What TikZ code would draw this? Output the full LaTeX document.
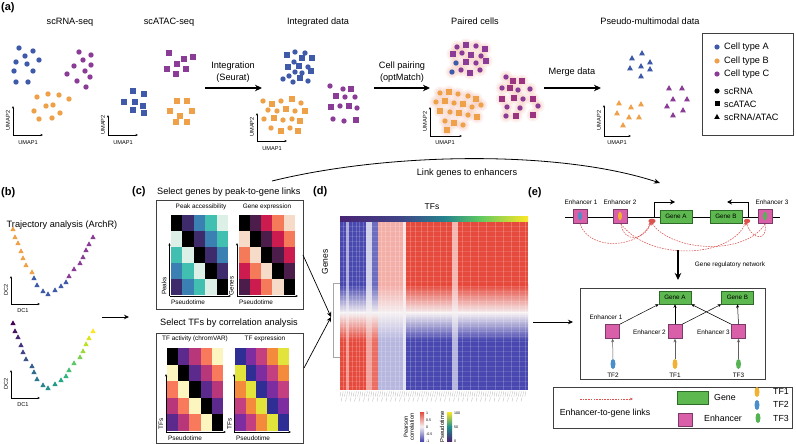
\documentclass[tikz,border=0pt]{standalone}
\usepackage{fontspec}
\setmainfont{Liberation Sans}
\usetikzlibrary{arrows.meta,shapes.geometric}
\definecolor{cA}{HTML}{3F5AA8}
\definecolor{cB}{HTML}{EFA14A}
\definecolor{cC}{HTML}{8A3C97}
\definecolor{halo}{HTML}{F4BBAA}
\definecolor{enh}{HTML}{D95FA8}
\definecolor{enhD}{HTML}{7A3A6A}
\definecolor{gene}{HTML}{5DB84F}
\definecolor{geneD}{HTML}{2E6B28}
\definecolor{tfa}{HTML}{F2B130}
\definecolor{tfb}{HTML}{4A8FCB}
\definecolor{tfc}{HTML}{55B354}
\definecolor{lnk}{HTML}{D9534F}
\definecolor{hR}{HTML}{E64A3D}
\definecolor{hB}{HTML}{4848B0}
\definecolor{hW}{HTML}{F5F0F2}
% mini heatmap palettes
\definecolor{pa0}{HTML}{000000}\definecolor{pa1}{HTML}{3D2B6B}\definecolor{pa2}{HTML}{3A80B2}\definecolor{pa3}{HTML}{41BFB0}\definecolor{pa4}{HTML}{DDF0E8}
\definecolor{ge0}{HTML}{000000}\definecolor{ge1}{HTML}{4C1D4B}\definecolor{ge2}{HTML}{CB1B4F}\definecolor{ge3}{HTML}{F47A5A}\definecolor{ge4}{HTML}{F6DCC8}
\definecolor{ta0}{HTML}{000000}\definecolor{ta1}{HTML}{5B2A8C}\definecolor{ta2}{HTML}{B8367A}\definecolor{ta3}{HTML}{F8795C}\definecolor{ta4}{HTML}{FCF5BF}
\definecolor{te0}{HTML}{2E2E94}\definecolor{te1}{HTML}{7E2DA0}\definecolor{te2}{HTML}{C33F7F}\definecolor{te3}{HTML}{F48A3B}\definecolor{te4}{HTML}{E2E43C}
% viridis
\definecolor{vir0}{HTML}{440154}\definecolor{vir1}{HTML}{471365}\definecolor{vir2}{HTML}{482475}\definecolor{vir3}{HTML}{463480}
\definecolor{vir4}{HTML}{414487}\definecolor{vir5}{HTML}{3B528B}\definecolor{vir6}{HTML}{355F8D}\definecolor{vir7}{HTML}{2F6C8E}
\definecolor{vir8}{HTML}{2A788E}\definecolor{vir9}{HTML}{25848E}\definecolor{vir10}{HTML}{21918C}\definecolor{vir11}{HTML}{1E9C89}
\definecolor{vir12}{HTML}{22A884}\definecolor{vir13}{HTML}{2FB47C}\definecolor{vir14}{HTML}{44BF70}\definecolor{vir15}{HTML}{5EC962}
\definecolor{vir16}{HTML}{7AD151}\definecolor{vir17}{HTML}{9BD93C}\definecolor{vir18}{HTML}{BDDF26}\definecolor{vir19}{HTML}{DFE318}
\definecolor{vir20}{HTML}{FDE725}
\newcommand\umapax[6]{% name, x, y, h, w, vertical label
  \draw[axarr] (#2,#3) -- (#2,#3-#4);
  \draw[axarr] (#2,#3) -- (#2+#5,#3);
  \node[axl,rotate=90] (#1v) at (#2-5,#3-#4/2) {#6};}
\newcommand\hmap[5]{% x0, y0, w, h, palette
  \foreach \r in {0,...,4}{\foreach \c in {0,...,4}{%
    \pgfmathtruncatemacro\k{mod(\c-\r+5,5)}%
    \fill[#5\k] (#1+\c*#3,#2+\r*#4) rectangle (#1+\c*#3+#3+0.3,#2+\r*#4+#4+0.3);}}}
\begin{document}
\begin{tikzpicture}[x=1pt,y=-1pt,
 lbl/.style={font=\fontsize{9.2}{10}\selectfont, inner sep=0pt},
 sml/.style={font=\fontsize{6.4}{7}\selectfont, inner sep=0pt},
 axl/.style={font=\fontsize{5.6}{6}\selectfont, inner sep=0pt},
 tny/.style={font=\fontsize{3.6}{4}\selectfont, inner sep=0pt},
 pnl/.style={font=\bfseries\fontsize{11}{12}\selectfont, inner sep=0pt, anchor=west},
 bigarr/.style={-{Stealth[length=7pt,width=6.5pt]}, line width=1.1pt},
 axarr/.style={-{Stealth[length=2.6pt,width=2.2pt]}, line width=0.5pt},
 frame/.style={draw=black!75, line width=0.6pt},
 genebox/.style={draw=geneD, fill=gene, line width=0.5pt, minimum width=32pt, minimum height=13pt, inner sep=0pt, font=\fontsize{6.3}{7}\selectfont},
 enhbox/.style={draw=enhD, fill=enh, line width=0.5pt, minimum width=14pt, minimum height=14pt, inner sep=0pt},
 tfell/.style={ellipse, minimum width=5pt, minimum height=10pt, inner sep=0pt},
 lnkarr/.style={draw=lnk, dash pattern=on 1.6pt off 1.1pt, line width=0.55pt, -{Stealth[length=3.2pt,width=2.8pt]}},
 grnarr/.style={-{Stealth[length=3.5pt,width=3pt]}, line width=0.5pt},
]
\useasboundingbox (0,0) rectangle (796,444);
\fill[white] (0,0) rectangle (796,444);

% ================= panel a =================
\node[pnl] (pa) at (1,8) {(a)};
\node[lbl] (t1) at (70,22) {scRNA-seq};
\node[lbl] (t2) at (169,22) {scATAC-seq};
\node[lbl] (t3) at (318,22) {Integrated data};
\node[lbl] (t4) at (475,21) {Paired cells};
\node[lbl] (t5) at (650,21) {Pseudo-multimodal data};

% scRNA
\foreach \x/\y in {19/48,33/51,25/56,39/60,16/62,27/64,33/71,14/71,16/82,28/82} \fill[cA] (\x,\y) circle (2.7pt);
\foreach \x/\y in {79/52,91/55,83/60,91/65,74/66,85/71,67/74,90/77,77/81,86/87} \fill[cC] (\x,\y) circle (2.7pt);
\foreach \x/\y in {48/94,59/95,37/97,69/99,46/106,53/105,34/111,60/113,52/118,39/119} \fill[cB] (\x,\y) circle (2.7pt);
\umapax{ax1}{13}{135}{29}{30}{UMAP2}
\node[axl] (ax1h) at (28,143) {UMAP1};
% scATAC
\foreach \x/\y in {169/53,193/57,184/59,177/64,167/69,186/69,176/74} \fill[cC] (\x-2.6,\y-2.6) rectangle (\x+2.6,\y+2.6);
\foreach \x/\y in {133/91,144/94,124/102,135/102,143/106,133/110,144/113} \fill[cA] (\x-2.6,\y-2.6) rectangle (\x+2.6,\y+2.6);
\foreach \x/\y in {177/101,187/101,170/111,192/111,180/116,176/122,187/122} \fill[cB] (\x-2.6,\y-2.6) rectangle (\x+2.6,\y+2.6);
\umapax{ax2}{108}{135}{20}{30}{UMAP2}
\node[axl] (ax2h) at (123,143) {UMAP1};
% integration arrow
\coordinate (i1) at (205,88); \coordinate (i2) at (262,88);
\draw[bigarr] (i1) -- (i2);
\node[lbl] (it1) at (233,66) {Integration};
\node[lbl] (it2) at (233,78) {(Seurat)};
% integrated
\foreach \x/\y in {295/52,305/53,294/62,308/67,295/72,302/73,283/79,289/76,293/82,308/81} \fill[cA] (\x,\y) circle (2.7pt);
\foreach \x/\y in {287/55,312/58,302/58,288/67,299/66,311/71,300/78} \fill[cA] (\x-2.6,\y-2.6) rectangle (\x+2.6,\y+2.6);
\foreach \x/\y in {263/101,281/101,301/103,268/110,277/111,295/111,264/119,283/120,292/119,271/128,290/128} \fill[cB] (\x,\y) circle (2.7pt);
\foreach \x/\y in {272/104,292/99,286/109,305/111,274/118,300/121,281/131,298/131} \fill[cB] (\x-2.6,\y-2.6) rectangle (\x+2.6,\y+2.6);
\foreach \x/\y in {330/86,343/89,345/97,340/106,357/108,333/119,344/121,355/97} \fill[cC] (\x,\y) circle (2.7pt);
\foreach \x/\y in {351/89,336/96,331/107,349/106,356/120} \fill[cC] (\x-2.6,\y-2.6) rectangle (\x+2.6,\y+2.6);
\umapax{ax3}{257}{141}{28}{30}{UMAP2}
\node[axl] (ax3h) at (272,149) {UMAP1};
% cell pairing arrow
\coordinate (p1) at (374,88); \coordinate (p2) at (430,88);
\draw[bigarr] (p1) -- (p2);
\node[lbl] (pt1) at (402,66) {Cell pairing};
\node[lbl] (pt2) at (402,78) {(optMatch)};
% paired cells: halos
\foreach \x/\y in {457/47,476/46,462/53,481/56,476/63,461/70,480/70,466/45,485/49,453/54,471/55,466/62,486/61,470/73,452/72,456/63,
  440/93,458/94,468/96,436/102,454/103,472/107,481/105,450/112,468/115,445/121,463/125,449/92,476/99,445/101,463/104,440/111,459/113,477/117,454/123,447/130,
  506/77,502/88,518/90,530/89,523/99,507/107,520/108,506/116,538/106,513/81,522/81,510/88,502/99,514/98,533/99,516/116,533/115}
  {\fill[halo,opacity=0.18] (\x,\y) circle (6.5pt); \fill[halo,opacity=0.25] (\x,\y) circle (4.8pt);}
\foreach \x/\y in {457/47,476/46,462/53,481/56,476/63,461/70,480/70} \fill[cC] (\x,\y) circle (2.7pt);
\foreach \x/\y in {466/45,485/49,453/54,471/55,466/62,486/61,470/73} \fill[cC] (\x-2.6,\y-2.6) rectangle (\x+2.6,\y+2.6);
\foreach \x/\y in {452/72,456/63} \fill[cA] (\x,\y) circle (2.7pt);
\foreach \x/\y in {440/93,458/94,468/96,436/102,454/103,472/107,481/105,450/112,468/115,445/121,463/125} \fill[cB] (\x,\y) circle (2.7pt);
\foreach \x/\y in {449/92,476/99,445/101,463/104,440/111,459/113,477/117,454/123,447/130} \fill[cB] (\x-2.6,\y-2.6) rectangle (\x+2.6,\y+2.6);
\foreach \x/\y in {506/77,502/88,518/90,530/89,523/99,507/107,520/108,506/116,538/106} \fill[cC] (\x,\y) circle (2.7pt);
\foreach \x/\y in {513/81,522/81,510/88,502/99,514/98,533/99,516/116,533/115} \fill[cC!85!red] (\x-2.6,\y-2.6) rectangle (\x+2.6,\y+2.6);
\umapax{ax4}{430}{136}{29}{32}{UMAP2}
\node[axl] (ax4h) at (445,143) {UMAP1};
% merge arrow
\coordinate (m1) at (544,88); \coordinate (m2) at (601,88);
\draw[bigarr] (m1) -- (m2);
\node[lbl] (mt) at (572,72) {Merge data};
% pseudo-multimodal
\foreach \x/\y in {632/58,642/53,650/62,630/68,641/66,650/69,641/76} \fill[cA] (\x-2.9,\y+2.3) -- (\x+2.9,\y+2.3) -- (\x,\y-2.9) -- cycle;
\foreach \x/\y in {619/103,631/107,641/104,617/113,629/117,639/117,623/125} \fill[cB] (\x-2.9,\y+2.3) -- (\x+2.9,\y+2.3) -- (\x,\y-2.9) -- cycle;
\foreach \x/\y in {669/88,682/88,673/99,687/99,667/106,683/110,673/115} \fill[cC] (\x-2.9,\y+2.3) -- (\x+2.9,\y+2.3) -- (\x,\y-2.9) -- cycle;
\umapax{ax5}{604}{136}{31}{27}{UMAP2}
\node[axl] (ax5h) at (617,143) {UMAP1};
% legend a
\node[frame, minimum width=91pt, minimum height=102pt, inner sep=0pt] (lega) at (747.5,84) {};
\fill[cA] (717,47) circle (2.6pt); \node[lbl,anchor=west] (la1) at (724,47) {Cell type A};
\fill[cB] (717,61) circle (2.6pt); \node[lbl,anchor=west] (la2) at (724,61) {Cell type B};
\fill[cC] (717,74) circle (2.6pt); \node[lbl,anchor=west] (la3) at (724,74) {Cell type C};
\fill[black] (717,91) circle (2.6pt); \node[lbl,anchor=west] (la4) at (724,91) {scRNA};
\fill[black] (714.5,101.5) rectangle (719.5,106.5); \node[lbl,anchor=west] (la5) at (724,104) {scATAC};
\fill[black] (714.2,119) -- (719.8,119) -- (717,114) -- cycle; \node[lbl,anchor=west] (la6) at (724,117) {scRNA/ATAC};

% ================= panel b =================
\node[pnl] (pb) at (1,193) {(b)};
\node[lbl] (bt) at (62,225) {Trajectory analysis (ArchR)};
\foreach \x/\y/\c in {13/229/cB,15/237/cB,18/243/cB,21/251/cB,23/258/cB,26/265/cB,32/272/cB,
  34/278/cA,37/285/cA,43/291/cA,48/294/cA,55/290/cA,61/286/cA,66/282/cA,
  69/276/cC,74/269/cC,80/263/cC,83/257/cC,86/250/cC,89/244/cC,93/237/cC}
  \fill[\c] (\x-2.7,\y+2.2) -- (\x+2.7,\y+2.2) -- (\x,\y-2.7) -- cycle;
\foreach \x/\y [count=\i from 0] in {13/229,15/237,18/243,21/251,23/258,26/265,32/272,34/278,37/285,43/291,48/294,55/290,61/286,66/282,69/276,74/269,80/263,83/257,86/250,89/244,93/237}
  \fill[vir\i] (\x-2.7,\y+96.2) -- (\x+2.7,\y+96.2) -- (\x,\y+91.3) -- cycle;
\umapax{bx1}{11}{304}{28}{29}{DC2}
\node[axl] (bx1h) at (23,311) {DC1};
\umapax{bx2}{11}{398}{28}{29}{DC2}
\node[axl] (bx2h) at (23,405) {DC1};
\coordinate (bc1) at (102,317); \coordinate (bc2) at (129,317);
\draw[-{Stealth[length=5pt,width=4.5pt]}, line width=0.8pt] (bc1) -- (bc2);

% ================= panel c =================
\node[pnl] (pc) at (132,192) {(c)};
\node[lbl,anchor=west] (ct1) at (157,192) {Select genes by peak-to-gene links};
\node[frame, minimum width=147pt, minimum height=109pt, inner sep=0pt] (cbox1) at (229.5,254.5) {};
\node[sml] (ch1) at (201,207) {Peak accessibility};
\node[sml] (ch2) at (267,207) {Gene expression};
\hmap{171}{215}{11.4}{16}{pa}
\hmap{238.5}{215}{11.3}{16}{ge}
\draw[axarr] (169.5,296) -- (169.5,243);
\draw[axarr] (169.5,296) -- (231,296);
\draw[axarr] (237,296) -- (237,243);
\draw[axarr] (237,296) -- (298,296);
\node[sml,rotate=90] (cl1) at (164,286) {Peaks};
\node[sml,rotate=90] (cl2) at (231.5,286) {Genes};
\node[sml,anchor=west] (cl3) at (171,302.5) {Pseudotime};
\node[sml,anchor=west] (cl4) at (239,302.5) {Pseudotime};

\node[lbl] (ct2) at (229,323) {Select TFs by correlation analysis};
\node[frame, minimum width=147pt, minimum height=110pt, inner sep=0pt] (cbox2) at (229.5,388) {};
\node[sml] (ch3) at (195,339) {TF activity (chromVAR)};
\node[sml] (ch4) at (265,339) {TF expression};
\hmap{167}{348}{11.2}{16.6}{ta}
\hmap{235}{348}{10.7}{16.6}{te}
\draw[axarr] (166,432) -- (166,374);
\draw[axarr] (166,432) -- (226,432);
\draw[axarr] (234,432) -- (234,374);
\draw[axarr] (234,432) -- (291,432);
\node[sml,rotate=90] (cl5) at (161,424) {TFs};
\node[sml,rotate=90] (cl6) at (229.5,424) {TFs};
\node[sml,anchor=west] (cl7) at (168,438) {Pseudotime};
\node[sml,anchor=west] (cl8) at (236,438.5) {Pseudotime};

% arrows c -> d
\coordinate (cd1) at (303,255); \coordinate (cd2) at (304,368); \coordinate (cdm) at (331,317);
\draw[-{Stealth[length=5pt,width=4.5pt]}, line width=0.7pt] (cd1) -- (cdm);
\draw[-{Stealth[length=5pt,width=4.5pt]}, line width=0.7pt] (cd2) -- (cdm);

% link curve
\coordinate (lk1) at (272,181); \coordinate (lk2) at (660,183);
\draw[line width=0.8pt, -{Stealth[length=6pt,width=5pt]}] (lk1) .. controls (390,152) and (560,150) .. (lk2);
\node[lbl] (lkt) at (467,173) {Link genes to enhancers};

% ================= panel d =================
\node[pnl] (pd) at (313,192) {(d)};
\node[font=\fontsize{8.5}{9}\selectfont, inner sep=0pt] (dtf) at (432,207) {TFs};
\node[font=\fontsize{8.5}{9}\selectfont, inner sep=0pt, rotate=90] (dge) at (325,262) {Genes};
% top bar
\shade[left color=vir2, right color=vir4] (340,216) rectangle (400,221.5);
\shade[left color=vir4, right color=vir9] (399.5,216) rectangle (445,221.5);
\shade[left color=vir9, right color=vir15] (444.5,216) rectangle (480,221.5);
\shade[left color=vir15, right color=vir20] (479.5,216) rectangle (528,221.5);
% heatmap
\foreach \xa/\xb/\ct/\cb in {340/346/hB/hR, 346/349/hB!45/hR!55, 349/366/hB/hR, 366/372/hB!25/hR!50, 372/378/hB!80/hR!80,
  378/403/hR!45/hB!40, 403/406/hR!15/hB!15, 406/452/hR/hB, 452/458/hR!40/hB!40, 458/528/hR/hB}{
  \fill[\ct] (\xa,222) rectangle (\xb+0.2,285);
  \shade[top color=\ct, bottom color=hW] (\xa,284.8) rectangle (\xb+0.2,313);
  \shade[top color=hW, bottom color=\cb] (\xa,312.8) rectangle (\xb+0.2,340);
  \fill[\cb] (\xa,339.8) rectangle (\xb+0.2,390);}
\foreach \x in {343,352,355.5,359,362.5,381,385,390,395,399,410,415,421,427,433,440,446,462,470,478,486,495,503,511,519,525}
  \fill[white,opacity=0.2] (\x,222) rectangle (\x+1.1,390);
\foreach \y in {226,231,...,388} \draw[white,opacity=0.13,line width=0.6pt] (340,\y) -- (528,\y);
% dendrogram
\draw[gray!70, line width=0.4pt] (340,283) -- (333,283) -- (333,357) -- (340,357);
% column labels (illegible)
\foreach \i in {0,...,84} \draw[gray!60, line width=0.3pt] (341+\i*2.2,391.5) -- (340+\i*2.2,396.5);
\foreach \i in {0,...,40} \draw[gray!60, line width=0.3pt] (342+\i*4.5,397.5) -- (341+\i*4.5,401.5);
% legend d
\node[font=\fontsize{5.8}{6}\selectfont, inner sep=0pt, rotate=90, align=center] (dlg1) at (409,427) {Pearson\\correlation};
\shade[top color=hR, bottom color=hB, middle color=hW] (420,412) rectangle (424,441);
\node[tny,anchor=west] (dn1) at (426,413) {1};
\node[tny,anchor=west] (dn2) at (426,420) {0.5};
\node[tny,anchor=west] (dn3) at (426,427) {0};
\node[tny,anchor=west] (dn4) at (426,434) {-0.5};
\node[tny,anchor=west] (dn5) at (426,441) {-1};
\node[font=\fontsize{5.8}{6}\selectfont, inner sep=0pt, rotate=90] (dlg2) at (442,427) {Pseudotime};
\shade[top color=vir20, bottom color=vir10] (447,412) rectangle (452,426.6);
\shade[top color=vir10, bottom color=vir2] (447,426.4) rectangle (452,441);
\node[tny,anchor=west] (dn6) at (454,413) {100};
\node[tny,anchor=west] (dn7) at (454,427) {50};
\node[tny,anchor=west] (dn8) at (454,441) {0};
% d -> e
\coordinate (de1) at (533,322); \coordinate (de2) at (573,322);
\draw[-{Stealth[length=5pt,width=4.5pt]}, line width=0.8pt] (de1) -- (de2);

% ================= panel e =================
\node[pnl] (pe) at (528,193) {(e)};
\coordinate (gl1) at (565,217); \coordinate (gl2) at (780,217);
\draw[line width=0.9pt] (gl1) -- (gl2);
\node[enhbox] (te1) at (580,216) {}; \fill[tfb] (te1.center) ellipse (2pt and 4.3pt);
\node[enhbox] (te2) at (620,216) {}; \fill[tfa] (te2.center) ellipse (2pt and 4.3pt);
\node[enhbox] (te3) at (765,216) {}; \fill[tfc] (te3.center) ellipse (2pt and 4.3pt);
\node[sml] (tl1) at (581,202) {Enhancer 1};
\node[sml] (tl2) at (620,202) {Enhancer 2};
\node[sml] (tl3) at (772,202) {Enhancer 3};
\node[genebox] (tgA) at (676,216.5) {Gene A};
\node[genebox] (tgB) at (726,216.5) {Gene B};
\coordinate (ba0) at (654,217); \coordinate (ba1) at (654,202); \coordinate (ba2) at (675,202);
\draw[line width=1pt, -{Stealth[length=5pt,width=5pt]}] (ba0) -- (ba1) -- (ba2);
\coordinate (bb0) at (748,217); \coordinate (bb1) at (748,202); \coordinate (bb2) at (727,202);
\draw[line width=1pt, -{Stealth[length=5pt,width=5pt]}] (bb0) -- (bb1) -- (bb2);
\fill[lnk] (652,221) ellipse (3.6pt and 2.3pt);
\fill[lnk] (747,221) ellipse (3.2pt and 2.2pt);
\coordinate (e1b) at (580,224); \coordinate (e2b) at (621,224); \coordinate (e3b) at (765,224);
\coordinate (tssA) at (651,222); \coordinate (tssB) at (746,222);
\draw[lnkarr] (e1b) .. controls (590,252) and (640,248) .. (tssA);
\draw[lnkarr] (e2b) .. controls (624,244) and (645,240) .. (tssA);
\draw[lnkarr] (e2b) .. controls (650,262) and (730,258) .. (tssB);
\draw[lnkarr] (e3b) .. controls (745,256) and (672,252) .. (tssA);
\draw[lnkarr] (e3b) .. controls (768,242) and (752,240) .. (tssB);
% GRN arrow
\coordinate (g1) at (678,250); \coordinate (g2) at (678,280);
\draw[bigarr] (g1) -- (g2);
\node[sml] (grt) at (730,265) {Gene regulatory network};
% GRN box
\node[frame, minimum width=185pt, minimum height=91pt, inner sep=0pt] (grn) at (672.5,333.5) {};
\node[genebox] (gA) at (675,297.5) {Gene A};
\node[genebox] (gB) at (737.5,297.5) {Gene B};
\node[enhbox] (n1) at (612.5,331.5) {};
\node[enhbox] (n2) at (675,331.5) {};
\node[enhbox] (n3) at (738.5,331.5) {};
\node[sml] (nl1) at (606,317) {Enhancer 1};
\node[sml,anchor=east] (nl2) at (666,332) {Enhancer 2};
\node[sml,anchor=east] (nl3) at (730,332) {Enhancer 3};
\node[tfell, fill=tfb] (f2) at (613,364) {};
\node[tfell, fill=tfa] (f1) at (675,364) {};
\node[tfell, fill=tfc] (f3) at (738.5,364) {};
\node[sml] (f2l) at (613,375) {TF2};
\node[sml] (f1l) at (675,375) {TF1};
\node[sml] (f3l) at (738.5,375) {TF3};
\draw[grnarr, draw=gray!75!black] (f2) -- (n1);
\draw[grnarr, draw=gray!75!black] (f1) -- (n2);
\draw[grnarr, draw=gray!75!black] (f3) -- (n3);
\draw[grnarr] (n1.north east) -- (gA.south west);
\draw[grnarr] (n2.north) -- (gA.south);
\draw[grnarr] (n2.north east) -- (gB.south west);
\draw[grnarr] (n3.north west) -- (gA.south east);
\draw[grnarr] (n3.north) -- (gB.south);
% legend e
\node[frame, minimum width=239pt, minimum height=41pt, inner sep=0pt] (lege) at (672.5,407.5) {};
\coordinate (l1) at (580,399); \coordinate (l2) at (633,399);
\draw[lnkarr] (l1) -- (l2);
\node[font=\fontsize{8.8}{9}\selectfont, inner sep=0pt] (llt) at (605,413) {Enhancer-to-gene links};
\node[genebox, minimum width=31pt, minimum height=13pt] (lgg) at (692.5,397.5) {};
\node[font=\fontsize{8.8}{9}\selectfont, inner sep=0pt, anchor=west] (lggt) at (714,397.5) {Gene};
\node[enhbox, minimum width=13.5pt, minimum height=13.5pt] (lge) at (685,419.5) {};
\node[font=\fontsize{8.8}{9}\selectfont, inner sep=0pt, anchor=west] (lget) at (704,418.5) {Enhancer};
\node[tfell, fill=tfa] (lt1) at (757,392) {};
\node[tfell, fill=tfb] (lt2) at (757,405) {};
\node[tfell, fill=tfc] (lt3) at (758,418) {};
\node[font=\fontsize{8.8}{9}\selectfont, inner sep=0pt, anchor=west] (lt1t) at (773,391) {TF1};
\node[font=\fontsize{8.8}{9}\selectfont, inner sep=0pt, anchor=west] (lt2t) at (773,404) {TF2};
\node[font=\fontsize{8.8}{9}\selectfont, inner sep=0pt, anchor=west] (lt3t) at (773,418) {TF3};
\end{tikzpicture}
\end{document}
